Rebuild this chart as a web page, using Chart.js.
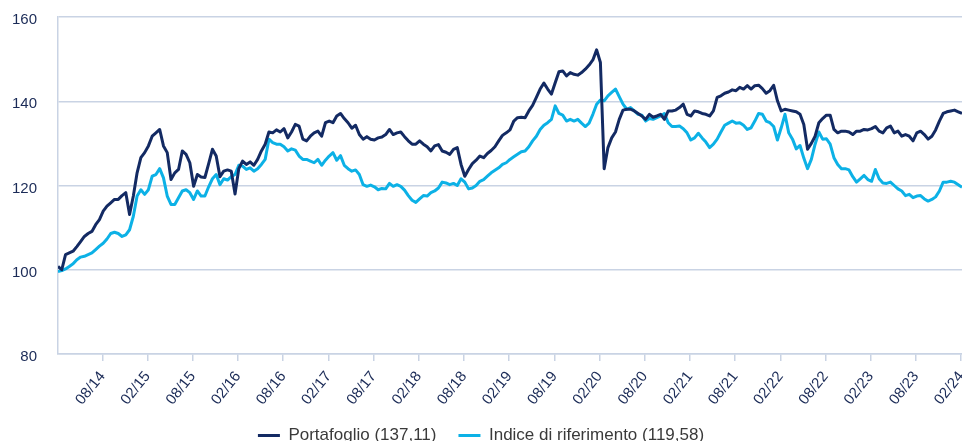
<!DOCTYPE html>
<html>
<head>
<meta charset="utf-8">
<script src="https://cdn.jsdelivr.net/npm/chart.js@4/dist/chart.umd.min.js"></script>
<style>
  html, body { margin: 0; padding: 0; background: #fff; overflow: hidden; }
  #wrap { position: relative; width: 962px; height: 454px; }
</style>
</head>
<body>
<div id="wrap"><canvas id="perfChart"></canvas></div>
<script>
// valori, un punto ogni mezzo mese (feb 2014 - feb 2024)
const portafoglio = [
  100.8, 100.0, 103.6, 104.0, 104.4, 105.5, 106.7, 107.9, 108.6, 109.1,
  110.7, 111.9, 113.9, 115.1, 115.9, 116.7, 116.7, 117.6, 118.3, 113.1,
  117.5, 123.0, 126.6, 127.8, 129.4, 131.7, 132.5, 133.3, 129.4, 127.8,
  121.4, 123.0, 123.8, 128.2, 127.4, 125.4, 119.8, 122.6, 122.0, 121.9,
  125.2, 128.6, 127.0, 122.1, 123.4, 123.7, 123.4, 118.0, 124.0, 125.8,
  125.0, 125.6, 124.8, 126.2, 128.2, 129.8, 132.7, 132.5, 133.2, 132.7,
  133.5, 131.3, 132.7, 134.5, 134.1, 131.0, 130.6, 131.7, 132.5, 132.9,
  131.7, 134.9, 135.3, 134.9, 136.5, 137.1, 135.9, 134.9, 133.6, 134.3,
  132.1, 131.0, 131.6, 131.0, 130.8, 131.3, 131.5, 132.1, 133.3, 132.1,
  132.5, 132.7, 131.6, 130.6, 129.8, 129.8, 130.6, 129.8, 129.2, 128.2,
  129.4, 129.7, 128.2, 127.9, 127.4, 128.6, 129.0, 125.0, 122.2, 123.8,
  125.2, 126.0, 127.0, 126.6, 127.6, 128.3, 129.2, 130.6, 131.9, 132.5,
  133.2, 135.3, 136.1, 136.2, 136.1, 137.7, 139.0, 140.9, 142.9, 144.3,
  142.9, 141.7, 144.4, 147.0, 147.2, 146.0, 146.8, 146.4, 146.2, 146.8,
  147.6, 148.6, 149.8, 152.2, 149.2, 124.0, 129.0, 131.3, 132.7, 135.7,
  137.9, 138.1, 138.1, 137.7, 137.1, 136.5, 135.7, 136.9, 136.2, 136.5,
  136.9, 135.7, 137.7, 137.7, 137.9, 138.5, 139.3, 136.9, 136.5, 137.7,
  137.5, 137.1, 136.9, 136.5, 137.7, 140.9, 141.3, 141.9, 142.2, 142.7,
  142.5, 143.3, 142.9, 143.7, 142.9, 143.7, 143.8, 143.0, 141.9, 142.5,
  143.8, 140.1, 137.7, 138.1, 137.9, 137.7, 137.5, 136.9, 134.5, 128.6,
  130.0, 131.7, 134.9, 135.9, 136.7, 136.7, 133.3, 132.5, 132.9, 132.9,
  132.7, 132.1, 132.9, 132.9, 133.3, 133.2, 133.5, 134.0, 132.9, 132.5,
  133.7, 134.1, 132.5, 132.9, 131.7, 132.1, 131.7, 130.6, 132.5, 132.9,
  132.1, 131.0, 131.7, 133.2, 135.3, 137.1, 137.5, 137.7, 137.9, 137.5,
  137.1
];

const indiceRiferimento = [
  99.6, 99.8, 100.2, 100.8, 101.4, 102.4, 103.0, 103.2, 103.6, 104.0,
  104.8, 105.6, 106.3, 107.3, 108.6, 108.9, 108.6, 107.9, 108.3, 109.5,
  112.7, 117.5, 119.0, 117.9, 119.0, 122.2, 122.6, 124.0, 121.8, 117.5,
  115.5, 115.5, 117.1, 118.7, 119.0, 118.3, 116.7, 118.7, 117.5, 117.5,
  119.7, 121.6, 122.6, 120.2, 121.6, 121.3, 122.1, 122.6, 124.8, 124.6,
  123.8, 124.2, 123.4, 124.0, 125.0, 126.2, 131.0, 130.2, 129.8, 129.8,
  129.2, 128.2, 128.7, 128.4, 127.0, 126.2, 126.2, 125.8, 125.4, 126.2,
  124.8, 126.0, 127.0, 127.8, 126.0, 127.1, 124.8, 124.0, 123.4, 123.7,
  122.6, 120.2, 119.8, 120.1, 119.7, 119.0, 119.3, 119.2, 120.5, 119.8,
  120.2, 119.8, 118.9, 117.6, 116.5, 116.0, 116.8, 117.6, 117.5, 118.3,
  118.7, 119.4, 120.8, 120.6, 120.2, 120.5, 120.0, 121.6, 120.8, 119.2,
  119.4, 120.0, 121.0, 121.4, 122.2, 123.0, 123.6, 124.2, 125.0, 125.4,
  126.2, 126.8, 127.4, 128.0, 128.2, 129.2, 130.6, 131.7, 133.3, 134.3,
  134.9, 135.7, 138.9, 137.1, 136.7, 135.3, 135.7, 135.3, 135.7, 134.8,
  134.0, 134.8, 136.9, 139.3, 140.3, 140.1, 141.3, 142.1, 142.9, 141.1,
  139.3, 138.1, 138.5, 137.7, 136.9, 136.7, 135.3, 135.9, 135.7, 136.1,
  136.5, 137.1, 134.9, 134.0, 134.0, 134.1, 133.5, 132.5, 130.8, 131.3,
  132.4, 131.3, 130.3, 129.0, 129.8, 131.0, 132.7, 134.3, 134.8, 135.3,
  134.8, 134.9, 134.3, 133.3, 133.7, 135.3, 137.1, 136.9, 135.3, 134.9,
  134.0, 130.8, 133.7, 136.9, 132.5, 131.0, 128.7, 129.5, 126.5, 124.0,
  126.2, 129.8, 132.7, 131.0, 131.1, 129.8, 126.6, 125.0, 124.0, 124.0,
  123.7, 122.1, 120.8, 121.6, 122.4, 121.4, 121.0, 123.8, 121.6, 120.6,
  120.5, 120.8, 120.0, 119.2, 118.7, 117.6, 117.9, 117.1, 117.5, 117.6,
  116.8, 116.3, 116.7, 117.3, 118.7, 120.8, 120.8, 121.0, 120.8, 120.2,
  119.6
];

// etichette asse x (mm/aa) e loro posizione in mesi dall'inizio serie
const tickLabels = [
  "08/14", "02/15", "08/15", "02/16", "08/16", "02/17", "08/17", "02/18", "08/18", "02/19",
  "08/19", "02/20", "08/20", "02/21", "08/21", "02/22", "08/22", "02/23", "08/23", "02/24"
];
const tickMonths = tickLabels.map((_, k) => 5.9 + 6 * k);
const months = portafoglio.map((_, i) => i / 2);

const seriesNames = ["Portafoglio (137,11)", "Indice di riferimento (119,58)"];

const NAVY = "#132a63";
const CYAN = "#0cb1e6";
const GRID = "#c9d3e4";
const TEXT = "#1b2b57";
const FONT = "'Liberation Sans', Arial, Helvetica, sans-serif";

const ctx = document.getElementById("perfChart").getContext("2d");
new Chart(ctx, {
  type: "line",
  data: {
    labels: months,
    datasets: [
      {
        label: seriesNames[0],
        data: portafoglio,
        borderColor: NAVY,
        backgroundColor: NAVY,
        borderWidth: 3,
        pointRadius: 0,
        tension: 0,
        borderJoinStyle: "round",
      },
      {
        label: seriesNames[1],
        data: indiceRiferimento,
        borderColor: CYAN,
        backgroundColor: CYAN,
        borderWidth: 3,
        pointRadius: 0,
        tension: 0,
        borderJoinStyle: "round",
      },
    ],
  },
  options: {
    responsive: true,
    maintainAspectRatio: false,
    animation: false,
    layout: { padding: { top: 17, left: 0, right: 0, bottom: 0 } },
    scales: {
      x: {
        type: "linear",
        min: 0,
        max: 120,
        afterBuildTicks: (scale) => {
          scale.ticks = tickMonths.map((v) => ({ value: v }));
        },
        afterFit: (scale) => {
          scale.height = 51;
          scale.paddingLeft = 0;
          scale.paddingRight = 0;
        },
        grid: { drawOnChartArea: false, drawTicks: true, tickLength: 7, color: GRID, lineWidth: 1.5 },
        border: { display: true, color: GRID, width: 1.5 },
        ticks: {
          autoSkip: false,
          minRotation: 51,
          maxRotation: 51,
          padding: 7,
          color: TEXT,
          font: { family: FONT, size: 15 },
          callback: (value, index) => tickLabels[index],
        },
      },
      y: {
        min: 80,
        max: 160,
        afterFit: (scale) => {
          scale.width = 58;
          scale.paddingTop = 0;
          scale.paddingBottom = 0;
        },
        grid: { color: GRID, lineWidth: 1.5, drawTicks: false },
        border: { display: true, color: GRID, width: 1.5 },
        ticks: {
          stepSize: 20,
          padding: 21,
          labelOffset: 3,
          color: TEXT,
          font: { family: FONT, size: 15 },
        },
      },
    },
    plugins: {
      tooltip: { enabled: false },
      legend: {
        position: "bottom",
        labels: {
          usePointStyle: true,
          pointStyle: "line",
          pointStyleWidth: 22,
          padding: 22,
          color: "#3a3a3a",
          font: { family: FONT, size: 17 },
        },
      },
    },
  },
});
</script>
</body>
</html>
